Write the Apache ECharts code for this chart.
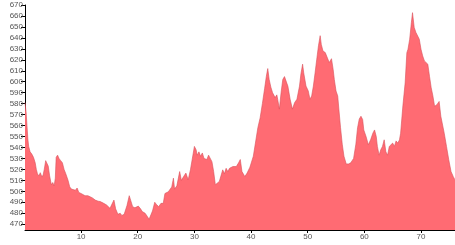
<!DOCTYPE html>
<html>
<head>
<meta charset="utf-8">
<script src="https://cdn.jsdelivr.net/npm/echarts@6/dist/echarts.min.js"></script>
<style>
html,body{margin:0;padding:0;background:#fff;}
#chart{width:455px;height:245px;}
</style>
</head>
<body>
<div id="chart"></div>
<script>
const distances = [
0.1,0.3,0.45,0.6,0.75,1.0,1.3,1.6,1.9,2.1,2.3,2.55,2.8,3.1,3.3,3.5,3.75,4.0,4.2,4.45,4.75,5.0,5.25,5.45,5.6,5.85,6.1,6.4,6.7,7.0,7.3,7.5,7.7,8.0,8.3,8.6,9.0,9.3,9.6,10.0,
10.7,11.2,11.6,12.0,12.5,13.0,13.4,14.0,14.5,15.1,15.4,15.8,16.1,16.5,16.9,17.2,17.6,18.1,18.5,18.8,19.1,19.5,19.8,20.1,20.5,20.8,21.3,21.7,22.0,22.3,
22.6,23.0,23.3,23.7,24.1,24.5,24.8,25.1,25.4,25.7,26.0,26.3,26.5,26.9,27.2,27.4,27.7,28.1,28.5,28.9,29.3,29.6,30.0,30.3,30.5,30.8,31.1,31.4,31.7,32.2,
32.5,32.8,33.1,33.4,33.7,34.0,34.4,34.7,35.0,35.3,35.6,35.9,36.2,36.5,36.8,37.1,37.4,37.8,38.1,38.4,38.9,39.3,39.8,40.4,40.8,41.2,41.6,42.0,42.4,42.7,
42.95,43.2,43.5,43.8,44.25,44.55,44.7,45.0,45.3,45.6,45.9,46.2,46.5,46.9,47.3,47.7,48.1,48.55,48.8,49.1,49.3,49.7,50.1,50.4,50.7,51.0,51.3,51.6,51.9,52.2,
52.4,52.7,53.1,53.4,53.8,54.2,54.5,54.7,55.0,55.3,55.5,55.8,56.1,56.4,56.8,57.2,57.6,57.9,58.1,58.5,58.8,59.1,59.4,59.7,59.9,60.3,60.7,61.1,61.5,61.8,
62.1,62.3,62.6,62.9,63.2,63.5,63.8,64.1,64.4,64.7,65.0,65.3,65.6,65.9,66.2,66.4,66.8,67.2,67.5,67.7,68.0,68.3,68.5,68.8,69.1,69.4,69.7,70.0,70.3,70.6,
70.9,71.2,71.5,71.8,72.1,72.4,72.8,73.2,73.5,73.8,74.1,74.5,74.9,75.3,75.7,76.0
];
const elevations = [
581,572,560,548,541,536,534,531,526,520,516,514,517,513,515,520,528,527,523,514,506,508,505,512,531,533,530,528,526,520,516,513,510,504,502,501,501,503,499,498,
496,496,495,494,492,491,490.6,489,487.5,484.5,484,492,484,479,480,478,479,487,496,491,486,485,484,486.5,484,481.5,480,477,474.5,476,
482,490,488,486,489,489,498,499,499.6,498,504,512,502,505,506,518,510,513.5,516.6,510.5,519.6,528.8,541,538,533,536,532,535,530,529,
533,532,527,518,506,507,509,510,519.6,516,521,518,521,520,522.6,521,522.6,526,529,518,513.5,516.6,522,532,545,558,567,580,594,605,
612,602,595,590,585.5,588,584,575,590,602,604.7,604,596,584,575,581,584,596,607,616,608,596,591.6,584,587,596,608,620.6,632.8,642,
634,628,626.6,625,617.5,621,611,602,591.6,587,575,558,543,532,525,525,526,524.5,530,543,558,566,568.5,565.5,556,550,542.5,547,553,556,
550,541,533,538,541,547,536,533,541,542.5,544,541,546,544,547,553,578,599,626.5,629.6,638.8,654,663,649.5,645,646.4,638.8,629.6,623.5,619,
620.5,616,605,594.5,587,577.6,579,582,568.5,567,553,541,528.7,518,513.4,510.4
];
const yTicks = [470,480,490,500,510,520,530,540,550,560,570,580,590,600,610,620,630,640,650,660,670];
const xTicks = [10,20,30,40,50,60,70];

const points = distances.map((d, i) => [d, elevations[i]]);
const chart = echarts.init(document.getElementById('chart'), null, {renderer: 'canvas'});
const labelStyle = {color: '#555', fontSize: 8, fontFamily: 'Liberation Sans, Arial, sans-serif'};
chart.setOption({
  animation: false,
  grid: {left: 25, right: 0, top: 5, bottom: 15, containLabel: false},
  xAxis: {
    type: 'value', min: 0.1, max: 76,
    axisLine: {show: true, lineStyle: {color: '#000', width: 1}},
    axisTick: {show: true, length: 3, customValues: xTicks, lineStyle: {color: '#000'}},
    axisLabel: Object.assign({customValues: xTicks, margin: 3}, labelStyle),
    splitLine: {show: false}
  },
  yAxis: {
    type: 'value', min: 464.7, max: 670,
    axisLine: {show: true, lineStyle: {color: '#000', width: 1}},
    axisTick: {show: true, length: 4, customValues: yTicks, lineStyle: {color: '#000'}},
    axisLabel: Object.assign({customValues: yTicks, margin: 2}, labelStyle),
    splitLine: {show: false}
  },
  series: [{
    type: 'line',
    data: points,
    showSymbol: false,
    smooth: false,
    sampling: 'none',
    lineStyle: {color: '#d9505b', width: 0.6},
    areaStyle: {color: '#ff6b73', opacity: 1, origin: 'start'},
    z: 1
  }]
});
</script>
</body>
</html>
